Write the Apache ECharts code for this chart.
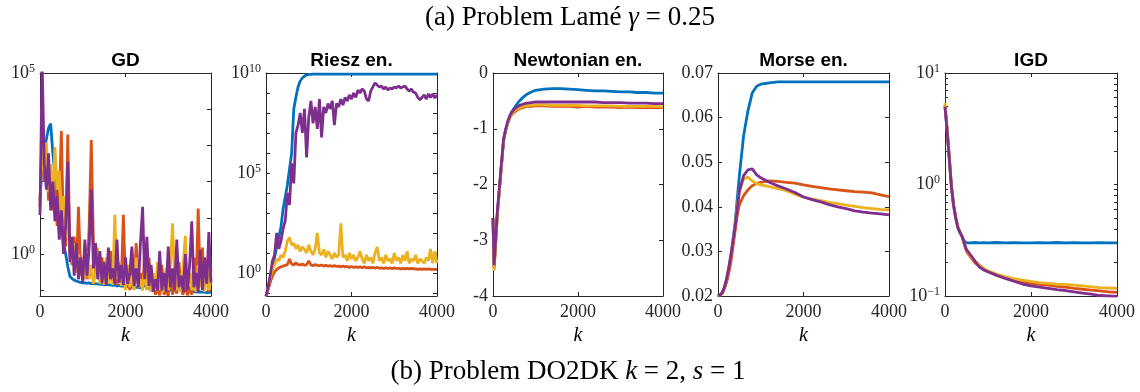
<!DOCTYPE html>
<html>
<head>
<meta charset="utf-8">
<script src="https://cdn.jsdelivr.net/npm/echarts@6/dist/echarts.min.js"></script>
<style>
html, body { margin: 0; padding: 0; background: #fff; }
#main { width: 1140px; height: 392px; }
</style>
</head>
<body>
<div id="main"></div>
<script>
// iteration grids
const kFine = Array.from({ length: 81 }, (_, i) => i * 50);
const kSmooth = [0, 25, 50, 100, 150, 200, 250, 300, 350, 400, 450, 500, 600, 700, 800, 900, 1000,
  1200, 1400, 1600, 1800, 2000, 2200, 2400, 2600, 2800, 3000, 3200, 3400, 3600, 3800, 4000];
const xTicks = [0, 2000, 4000];

// y ticks / labels of the log panels
const gdTicks = [0.1, 1, 10, 100, 1e3, 1e4, 1e5];
const gdLabels = [1, 1e5];
const rieszTicks = [0.1, 1, 10, 100, 1e3, 1e4, 1e5, 1e6, 1e7, 1e8, 1e9, 1e10];
const rieszLabels = [1, 1e5, 1e10];
const igdTicks = [0.1, 0.2, 0.3, 0.4, 0.5, 0.6, 0.7, 0.8, 0.9, 1, 2, 3, 4, 5, 6, 7, 8, 9, 10];
const igdLabels = [0.1, 1, 10];

const panelTitles = ['GD', 'Riesz en.', 'Newtonian en.', 'Morse en.', 'IGD'];
const colors = ['#0072BD', '#D95319', '#EDB120', '#7E2F8E'];

// GD (kFine)
const gdBlue = [
  30, 300, 800, 1500, 3000, 4000, 600, 150, 40, 12,
  6, 2, 1, 0.45, 0.24, 0.21, 0.19, 0.18, 0.17, 0.165,
  0.16, 0.16, 0.155, 0.16, 0.15, 0.155, 0.15, 0.15, 0.145, 0.15,
  0.14, 0.145, 0.14, 0.14, 0.135, 0.14, 0.13, 0.135, 0.13, 0.13,
  0.125, 0.13, 0.125, 0.12, 0.125, 0.12, 0.12, 0.115, 0.12, 0.15,
  0.11, 0.115, 0.11, 0.11, 0.105, 0.11, 0.105, 0.1, 0.105, 0.1,
  0.1, 0.1, 0.095, 0.1, 0.095, 0.2, 0.095, 0.095, 0.09, 0.15,
  0.09, 0.095, 0.09, 0.09, 0.088, 0.09, 0.088, 0.088, 0.085, 0.088,
  0.085];
const gdOrange = [
  20, 3000, 100, 600, 30, 150, 16, 100, 6, 30,
  2500, 3, 1.6, 2000, 1, 0.5, 3, 0.3, 20, 0.4,
  0.25, 1.6, 0.2, 6, 1400, 2, 0.25, 0.6, 0.18, 0.8,
  0.16, 0.4, 0.15, 1.2, 0.17, 0.3, 0.14, 0.5, 0.15, 12,
  0.15, 0.4, 0.1, 0.8, 0.12, 2, 0.15, 0.3, 0.1, 1.2,
  0.12, 0.8, 0.09, 0.2, 0.075, 0.12, 0.072, 0.5, 0.075, 0.1,
  0.07, 0.3, 0.075, 0.15, 0.08, 0.6, 0.1, 0.075, 0.4, 0.072,
  0.12, 0.075, 0.8, 0.1, 18, 0.15, 1.5, 0.1, 0.5, 0.09,
  0.4];
const gdYellow = [
  30, 1000, 200, 1200, 50, 300, 30, 900, 60, 200,
  8, 40, 3, 10, 1.2, 0.6, 2, 0.3, 1, 0.25,
  0.6, 0.2, 1.2, 0.2, 0.5, 0.15, 0.3, 1.5, 0.15, 0.4,
  0.14, 0.8, 0.15, 0.3, 0.14, 12, 0.2, 0.6, 0.13, 0.3,
  0.1, 0.5, 0.12, 0.25, 0.1, 0.8, 0.12, 0.2, 0.1, 0.4,
  0.1, 0.2, 0.09, 0.3, 0.1, 0.6, 0.1, 0.2, 0.09, 0.4,
  0.1, 0.5, 7, 0.2, 0.1, 0.3, 0.09, 0.5, 3.2, 0.12,
  0.3, 0.1, 0.2, 0.09, 0.5, 0.12, 0.25, 0.09, 0.6, 0.1,
  0.2];
const gdPurple = [
  12, 2e5, 300, 60, 600, 16, 100, 8, 40, 2.5,
  16, 1, 6, 350, 0.6, 3, 0.25, 2, 0.2, 0.8,
  0.16, 2.5, 0.25, 1.6, 60, 0.4, 2, 0.2, 1.2, 0.16,
  0.6, 0.14, 1.5, 0.2, 0.4, 0.15, 2.5, 0.16, 0.5, 0.14,
  0.8, 0.15, 0.3, 1.6, 0.13, 0.4, 0.12, 2, 20, 0.2,
  3, 0.13, 0.5, 0.09, 0.2, 0.1, 1.2, 0.1, 0.3, 0.09,
  1.6, 0.12, 0.4, 0.1, 2.5, 0.12, 0.25, 0.09, 1, 0.1,
  0.5, 8, 0.12, 0.3, 0.09, 1.3, 0.1, 0.8, 0.15, 4,
  0.16];

// Riesz energy (kFine)
const rieszBlue = [
  0.07, 0.16, 0.4, 1.6, 6, 20, 60, 200, 1600, 6300,
  2.5e4, 1.6e5, 1e6, 1.6e8, 6.3e8, 2e9, 4e9, 5.6e9, 7e9, 8e9,
  8.5e9, 8.6e9, 8.7e9, 8.7e9, 8.7e9, 8.7e9, 8.7e9, 8.7e9, 8.7e9, 8.7e9,
  8.7e9, 8.7e9, 8.7e9, 8.7e9, 8.7e9, 8.7e9, 8.7e9, 8.7e9, 8.7e9, 8.7e9,
  8.7e9, 8.7e9, 8.7e9, 8.7e9, 8.7e9, 8.7e9, 8.7e9, 8.7e9, 8.7e9, 8.7e9,
  8.7e9, 8.7e9, 8.7e9, 8.7e9, 8.7e9, 8.7e9, 8.7e9, 8.7e9, 8.7e9, 8.7e9,
  8.7e9, 8.7e9, 8.7e9, 8.7e9, 8.7e9, 8.7e9, 8.7e9, 8.7e9, 8.7e9, 8.7e9,
  8.7e9, 8.7e9, 8.7e9, 8.7e9, 8.7e9, 8.7e9, 8.7e9, 8.7e9, 8.7e9, 8.7e9,
  8.7e9];
const rieszOrange = [
  0.07, 0.15, 0.35, 0.7, 1.1, 1.5, 1.8, 2.0, 2.2, 2.4,
  2.6, 5, 2.8, 2.5, 3.2, 2.6, 2.5, 2.8, 2.4, 2.6,
  4, 2.5, 2.3, 2.6, 2.4, 2.3, 2.5, 2.2, 2.4, 2.2,
  2.3, 2.1, 2.3, 2.1, 2.2, 2.0, 2.2, 2.0, 2.1, 1.9,
  2.1, 1.9, 2.0, 1.9, 2.0, 1.8, 2.0, 1.8, 1.9, 1.8,
  1.9, 1.7, 1.9, 1.7, 1.8, 1.7, 1.8, 1.7, 1.8, 1.6,
  1.8, 1.7, 1.7, 1.6, 1.7, 1.6, 1.7, 1.6, 1.7, 1.6,
  1.6, 1.5, 1.6, 1.5, 1.6, 1.5, 1.6, 1.5, 1.5, 1.5,
  1.5];
const rieszYellow = [
  0.07, 0.2, 0.6, 1.6, 2.5, 5, 4, 8, 6, 12,
  40, 60, 25, 30, 16, 25, 12, 20, 15, 10,
  25, 12, 8, 16, 100, 10, 8, 15, 6, 12,
  8, 5, 10, 6, 8, 300, 6, 8, 4, 10,
  5, 8, 4, 6, 12, 5, 3, 8, 4, 6,
  3, 10, 20, 4, 6, 3, 8, 4, 5, 3,
  10, 4, 6, 3, 8, 4, 12, 3, 5, 4,
  8, 3, 5, 4, 3, 6, 4, 16, 3, 12,
  3];
const rieszPurple = [
  0.07, 0.2, 0.8, 4, 8, 100, 16, 40, 160, 400,
  1e4, 2500, 3e5, 3e4, 1e7, 2.5e7, 1e8, 1e7, 1.6e8, 6e5,
  6e7, 4e8, 3e7, 2e8, 1.6e7, 5e8, 6e6, 2e8, 1e8, 3e8,
  1.6e8, 4e8, 2.5e7, 3e8, 2e8, 5e8, 2.5e8, 6e8, 4e8, 8e8,
  5e8, 1e9, 6e8, 1.4e9, 1e9, 1.6e9, 1.25e9, 5e8, 4e8, 1.25e9,
  2e9, 3.2e9, 2.5e9, 2e9, 2.2e9, 1.6e9, 2e9, 1.4e9, 1.8e9, 1.6e9,
  2e9, 1.8e9, 2.2e9, 1.8e9, 2e9, 2.2e9, 1.6e9, 1.25e9, 1.6e9, 1.1e9,
  1e9, 6e8, 4.5e8, 6e8, 8e8, 5e8, 9e8, 6e8, 9e8, 5.6e8,
  8e8];

// Newtonian energy (kSmooth)
const newtBlue = [-2.6, -3.5, -3.2, -2.55, -2.1, -1.65, -1.2, -1.02, -0.88, -0.77, -0.69, -0.63,
  -0.52, -0.44, -0.38, -0.34, -0.31, -0.29, -0.28, -0.28, -0.29, -0.30, -0.31, -0.32, -0.32,
  -0.33, -0.34, -0.34, -0.35, -0.35, -0.36, -0.36];
const newtOrange = [-2.6, -3.5, -3.2, -2.55, -2.1, -1.65, -1.2, -1.02, -0.9, -0.8, -0.74, -0.7,
  -0.65, -0.62, -0.6, -0.6, -0.59, -0.59, -0.6, -0.6, -0.6, -0.61, -0.6, -0.61, -0.61,
  -0.61, -0.62, -0.61, -0.62, -0.62, -0.62, -0.62];
const newtYellow = [-2.6, -3.55, -3.25, -2.6, -2.1, -1.65, -1.2, -1.02, -0.89, -0.79, -0.72, -0.68,
  -0.63, -0.6, -0.58, -0.58, -0.57, -0.57, -0.58, -0.58, -0.58, -0.58, -0.59, -0.59, -0.59,
  -0.59, -0.6, -0.6, -0.6, -0.6, -0.6, -0.61];
const newtPurple = [-2.6, -3.45, -3.15, -2.5, -2.05, -1.6, -1.18, -1.0, -0.86, -0.76, -0.69, -0.65,
  -0.59, -0.56, -0.54, -0.53, -0.52, -0.52, -0.52, -0.52, -0.52, -0.52, -0.52, -0.52, -0.53,
  -0.53, -0.53, -0.54, -0.54, -0.54, -0.55, -0.55];

// Morse energy (kSmooth)
const morseBlue = [0.0200, 0.0201, 0.0202, 0.0207, 0.0218, 0.0235, 0.026, 0.029, 0.0325, 0.0365,
  0.0418, 0.047, 0.056, 0.0615, 0.0655, 0.067, 0.0675, 0.0678, 0.068, 0.068, 0.068, 0.068,
  0.068, 0.068, 0.068, 0.068, 0.068, 0.068, 0.068, 0.068, 0.068, 0.068];
const morseOrange = [0.02, 0.0201, 0.0202, 0.0206, 0.0216, 0.023, 0.025, 0.0275, 0.031, 0.0345,
  0.038, 0.0405, 0.0425, 0.0438, 0.0447, 0.0452, 0.0455, 0.0458, 0.0457, 0.0455, 0.0453, 0.0449,
  0.0446, 0.0443, 0.044, 0.0438, 0.0436, 0.0434, 0.0433, 0.0431, 0.0427, 0.0423];
const morseYellow = [0.02, 0.0201, 0.0203, 0.0208, 0.022, 0.0238, 0.0262, 0.029, 0.0323, 0.0358,
  0.04, 0.0435, 0.0462, 0.0467, 0.0458, 0.0452, 0.0449, 0.0445, 0.0441, 0.0436, 0.0428, 0.0422,
  0.0417, 0.0414, 0.041, 0.0407, 0.0404, 0.0401, 0.0398, 0.0396, 0.0394, 0.0393];
const morsePurple = [0.02, 0.0201, 0.0203, 0.0208, 0.022, 0.0238, 0.0262, 0.029, 0.0322, 0.0355,
  0.0395, 0.0435, 0.047, 0.0483, 0.0485, 0.0472, 0.0465, 0.0455, 0.0447, 0.044, 0.0432, 0.0422,
  0.0416, 0.0411, 0.0405, 0.04, 0.0396, 0.0391, 0.0388, 0.0386, 0.0384, 0.0382];

// IGD (kSmooth)
const igdBlue = [5.0, 3.9, 3.0, 1.7, 0.95, 0.65, 0.5, 0.41, 0.37, 0.34, 0.31, 0.3,
  0.3, 0.302, 0.3, 0.301, 0.3, 0.302, 0.3, 0.301, 0.3, 0.3, 0.301, 0.3, 0.302, 0.3,
  0.301, 0.3, 0.3, 0.301, 0.3, 0.3];
const igdOrange = [5.2, 4.0, 3.1, 1.75, 0.95, 0.65, 0.5, 0.41, 0.37, 0.34, 0.29, 0.25,
  0.222, 0.198, 0.184, 0.172, 0.165, 0.155, 0.146, 0.138, 0.133, 0.13, 0.127, 0.125, 0.122,
  0.12, 0.117, 0.115, 0.113, 0.111, 0.109, 0.108];
const igdYellow = [5.4, 4.1, 3.1, 1.75, 0.96, 0.66, 0.51, 0.42, 0.37, 0.34, 0.295, 0.258,
  0.228, 0.205, 0.19, 0.177, 0.168, 0.157, 0.149, 0.143, 0.139, 0.135, 0.132, 0.13, 0.128,
  0.127, 0.125, 0.123, 0.121, 0.119, 0.118, 0.117];
const igdPurple = [5.0, 3.9, 3.0, 1.7, 0.95, 0.65, 0.5, 0.41, 0.37, 0.34, 0.295, 0.26,
  0.232, 0.205, 0.182, 0.172, 0.165, 0.153, 0.144, 0.136, 0.128, 0.123, 0.12, 0.117, 0.114,
  0.112, 0.109, 0.106, 0.104, 0.101, 0.1, 0.099];

const AX = '#262626';
const SERIF = 'Liberation Serif';
const SANS = 'Liberation Sans';

const panels = [
  { left: 40, width: 171, yType: 'log', yMin: 0.069, yMax: 1e5, ticks: gdTicks, labels: gdLabels,
    k: kFine, data: [gdBlue, gdOrange, gdYellow, gdPurple] },
  { left: 266, width: 171, yType: 'log', yMin: 0.07, yMax: 1e10, ticks: rieszTicks, labels: rieszLabels,
    k: kFine, data: [rieszBlue, rieszOrange, rieszYellow, rieszPurple] },
  { left: 493, width: 170, yType: 'value', yMin: -4, yMax: 0, interval: 1, digits: 0,
    k: kSmooth, data: [newtBlue, newtOrange, newtYellow, newtPurple] },
  { left: 718, width: 171, yType: 'value', yMin: 0.02, yMax: 0.07, interval: 0.01, digits: 2,
    k: kSmooth, data: [morseBlue, morseOrange, morseYellow, morsePurple] },
  { left: 945, width: 172, yType: 'log', yMin: 0.1, yMax: 10, ticks: igdTicks, labels: igdLabels,
    tickLen: 3, k: kSmooth, data: [igdBlue, igdOrange, igdYellow, igdPurple] }
];
const TOP = 73, HEIGHT = 223;

function logLabel(v) {
  const e = Math.round(Math.log10(v));
  return '10{sup|' + (e < 0 ? '\u2212' + (-e) : e) + '}';
}

const grids = [], xAxes = [], yAxes = [], series = [], titles = [];

panels.forEach(function (p, i) {
  grids.push({ left: p.left, top: TOP, width: p.width, height: HEIGHT, outerBoundsMode: 'none' });
  ['bottom', 'top'].forEach(function (pos) {
    xAxes.push({
      type: 'value', gridIndex: i, position: pos, min: xTicks[0], max: xTicks[2], interval: xTicks[1] - xTicks[0],
      name: pos === 'bottom' ? 'k' : '', nameLocation: 'middle', nameGap: 30,
      nameTextStyle: { fontFamily: SERIF, fontStyle: 'italic', fontSize: 20, color: '#000' },
      axisLine: { show: true, onZero: false, lineStyle: { color: AX, width: 1 } },
      axisTick: { show: true, inside: true, length: 4, lineStyle: { color: AX } },
      axisLabel: { show: pos === 'bottom', margin: 7, fontFamily: SERIF, fontSize: 18, color: AX,
        showMinLabel: true, showMaxLabel: true, formatter: function (v) { return String(v); } },
      splitLine: { show: false }
    });
  });
  ['left', 'right'].forEach(function (pos) {
    const ax = {
      type: p.yType, gridIndex: i, position: pos, min: p.yMin, max: p.yMax,
      axisLine: { show: true, onZero: false, lineStyle: { color: AX, width: 1 } },
      axisTick: { show: true, inside: true, length: p.tickLen || 4, lineStyle: { color: AX } },
      splitLine: { show: false },
      axisLabel: {
        show: pos === 'left', margin: 5, fontFamily: SERIF, fontSize: 18, color: AX,
        showMinLabel: true, showMaxLabel: true,
        rich: { sup: { fontFamily: SERIF, fontSize: 12, color: AX, padding: [0, 0, 9, 0] } }
      }
    };
    if (p.yType === 'log') {
      ax.logBase = 10;
      ax.axisTick.customValues = p.ticks;
      ax.axisLabel.customValues = p.labels;
      ax.axisLabel.formatter = logLabel;
    } else {
      ax.interval = p.interval;
      const d = p.digits;
      ax.axisLabel.formatter = function (v) { return v.toFixed(d); };
    }
    yAxes.push(ax);
  });
  p.data.forEach(function (vals, j) {
    series.push({
      type: 'line', xAxisIndex: 2 * i, yAxisIndex: 2 * i,
      data: p.k.map(function (k, n) { return [k, vals[n]]; }),
      showSymbol: false, symbol: 'none', color: colors[j],
      lineStyle: { width: 2.8, color: colors[j] }
    });
  });
  titles.push({
    text: panelTitles[i], left: p.left + p.width / 2, textAlign: 'center', top: 51, padding: 0,
    textStyle: { fontFamily: SANS, fontWeight: 'bold', fontSize: 19, color: '#000' }
  });
});

const capStyle = { fontFamily: SERIF, fontSize: 27, fontWeight: 'normal', color: '#000',
  rich: { i: { fontFamily: SERIF, fontSize: 27, fontStyle: 'italic', color: '#000' } } };
titles.push({ text: '(a) Problem Lamé {i|γ} = 0.25', left: 570, textAlign: 'center', top: 4,
  padding: 0, textStyle: capStyle });
titles.push({ text: '(b) Problem DO2DK {i|k} = 2, {i|s} = 1', left: 568, textAlign: 'center', top: 358,
  padding: 0, textStyle: capStyle });

const chart = echarts.init(document.getElementById('main'), null, { renderer: 'canvas' });
chart.setOption({
  animation: false,
  backgroundColor: '#fff',
  title: titles,
  grid: grids,
  xAxis: xAxes,
  yAxis: yAxes,
  series: series
});
</script>
</body>
</html>
